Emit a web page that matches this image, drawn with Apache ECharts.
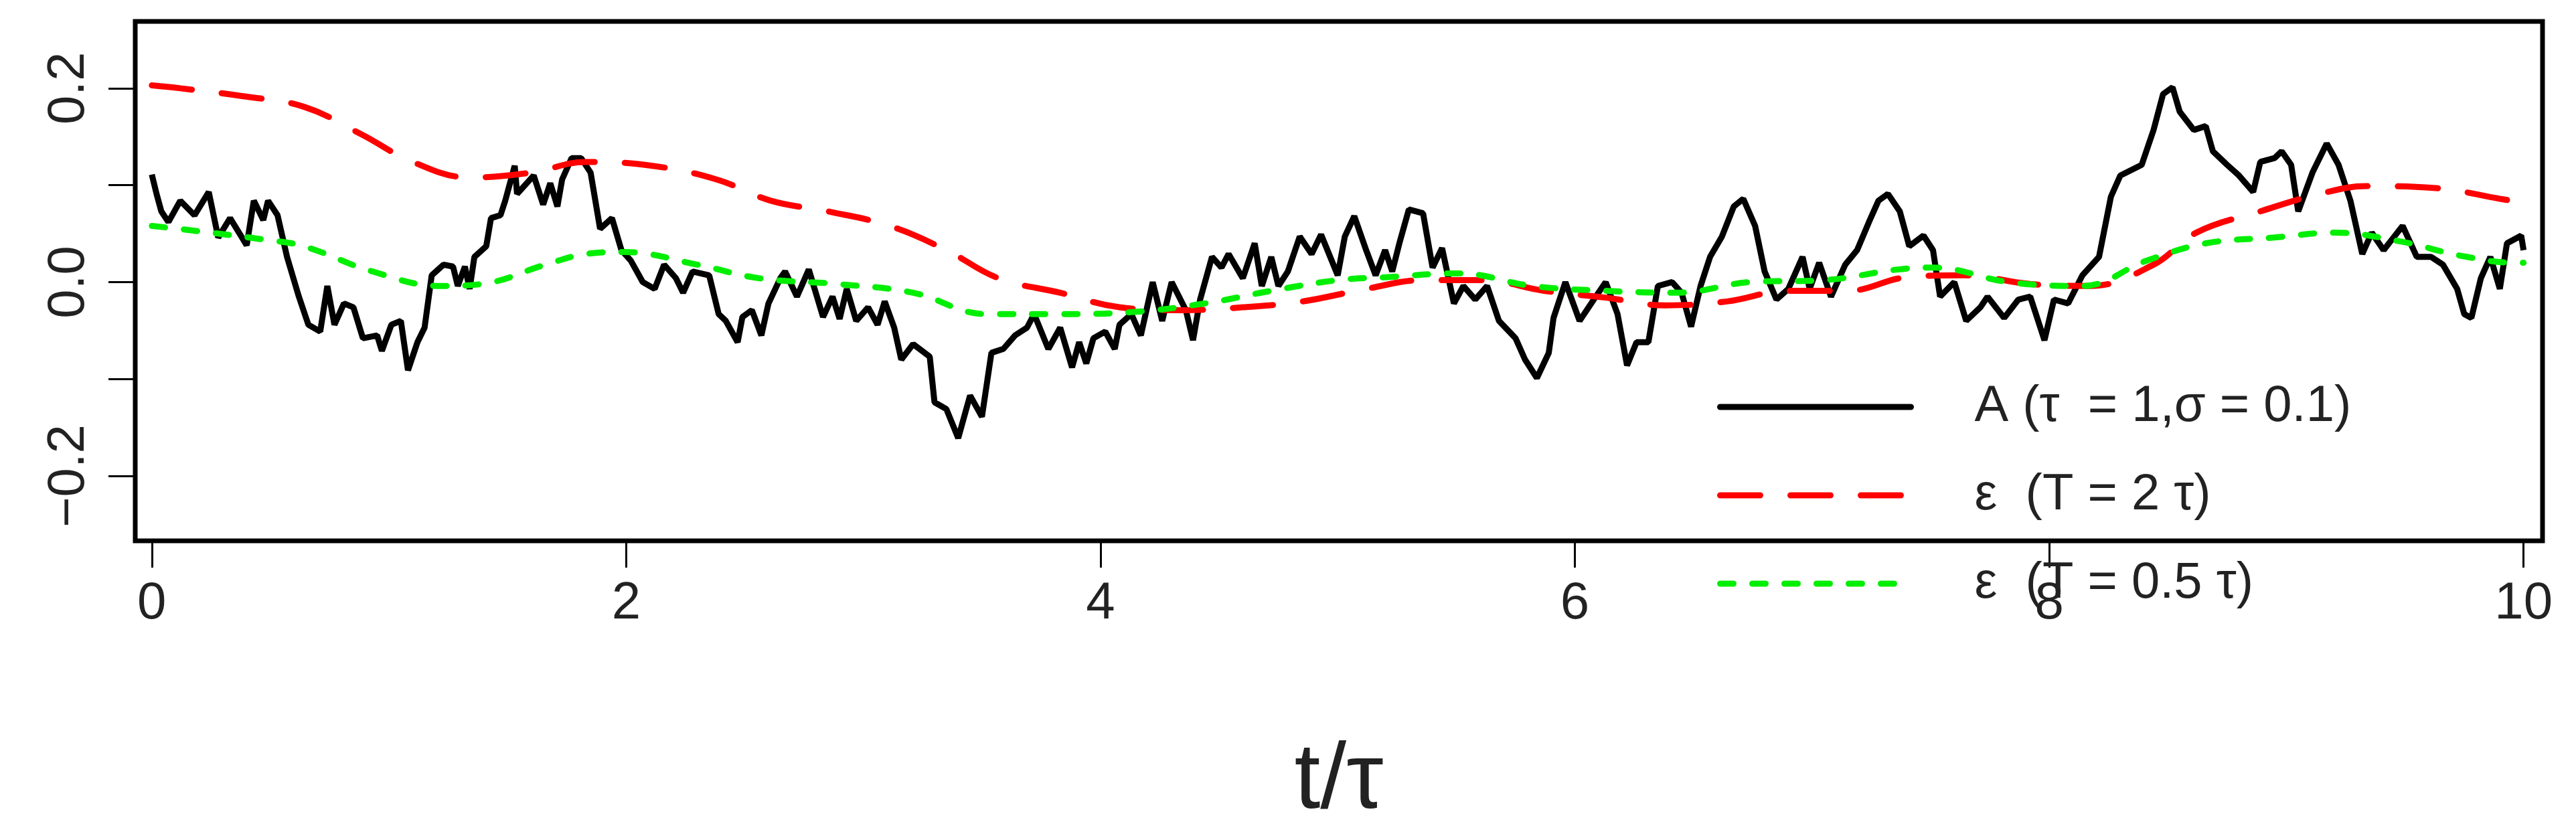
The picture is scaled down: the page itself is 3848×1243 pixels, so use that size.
<!DOCTYPE html>
<html>
<head>
<meta charset="utf-8">
<script src="https://cdn.jsdelivr.net/npm/echarts@6/dist/echarts.min.js"></script>
<style>html,body{margin:0;padding:0;background:#fff}#chart{width:3848px;height:1243px}</style>
</head>
<body>
<div id="chart"></div>
<script>
// A (tau = 1, sigma = 0.1)
const tA = [0,0.02,0.04,0.07,0.12,0.18,0.24,0.28,0.33,0.40,0.43,0.47,0.49,0.53,0.57,0.62,0.66,0.71,0.74,0.77,0.81,0.85,0.89,0.95,0.97,1.01,1.05,1.08,1.12,1.15,1.18,1.23,1.27,1.29,1.32,1.34,1.36,1.41,1.43,1.47,1.49,1.53,1.54,1.61,1.65,1.68,1.71,1.73,1.77,1.81,1.85,1.89,1.94,1.98,2.02,2.07,2.12,2.16,2.21,2.24,2.28,2.35,2.39,2.42,2.47,2.49,2.53,2.57,2.60,2.65,2.67,2.72,2.77,2.83,2.87,2.90,2.93,2.97,3.02,3.06,3.09,3.13,3.16,3.21,3.28,3.30,3.35,3.40,3.45,3.50,3.54,3.59,3.64,3.69,3.72,3.78,3.83,3.88,3.91,3.94,3.97,4.02,4.06,4.08,4.13,4.17,4.22,4.26,4.30,4.36,4.39,4.42,4.47,4.51,4.54,4.60,4.65,4.68,4.72,4.75,4.79,4.84,4.89,4.93,5.00,5.03,5.07,5.12,5.16,5.20,5.23,5.26,5.30,5.36,5.40,5.44,5.49,5.53,5.58,5.63,5.68,5.75,5.79,5.84,5.89,5.91,5.96,6.02,6.08,6.13,6.18,6.22,6.26,6.31,6.35,6.41,6.45,6.49,6.53,6.57,6.62,6.67,6.71,6.76,6.80,6.85,6.90,6.96,6.99,7.03,7.08,7.14,7.19,7.24,7.28,7.32,7.37,7.41,7.47,7.51,7.54,7.60,7.65,7.71,7.74,7.81,7.87,7.92,7.98,8.02,8.08,8.14,8.21,8.26,8.30,8.39,8.44,8.48,8.52,8.55,8.61,8.66,8.69,8.75,8.80,8.86,8.89,8.95,8.98,9.02,9.05,9.11,9.17,9.22,9.27,9.32,9.36,9.41,9.49,9.55,9.61,9.66,9.72,9.75,9.78,9.82,9.86,9.90,9.93,9.99,10.0];
const vA = [0.111,0.091,0.073,0.062,0.084,0.069,0.093,0.046,0.066,0.038,0.084,0.064,0.084,0.069,0.026,-0.015,-0.044,-0.051,-0.004,-0.044,-0.022,-0.026,-0.058,-0.055,-0.071,-0.044,-0.040,-0.091,-0.062,-0.047,0.007,0.018,0.016,-0.004,0.016,-0.007,0.026,0.037,0.066,0.069,0.084,0.120,0.091,0.110,0.080,0.102,0.078,0.106,0.128,0.128,0.113,0.055,0.066,0.033,0.022,0.000,-0.007,0.018,0.004,-0.011,0.011,0.007,-0.033,-0.040,-0.062,-0.036,-0.029,-0.055,-0.022,0.004,0.011,-0.015,0.013,-0.036,-0.015,-0.038,-0.007,-0.040,-0.026,-0.044,-0.020,-0.047,-0.080,-0.064,-0.077,-0.124,-0.131,-0.161,-0.117,-0.139,-0.073,-0.069,-0.055,-0.047,-0.033,-0.069,-0.047,-0.088,-0.062,-0.084,-0.058,-0.051,-0.069,-0.044,-0.033,-0.055,0.000,-0.040,0.000,-0.029,-0.060,-0.018,0.026,0.015,0.029,0.004,0.040,-0.004,0.026,-0.004,0.011,0.047,0.029,0.049,0.007,0.047,0.068,0.033,0.007,0.033,0.011,0.040,0.075,0.071,0.015,0.035,-0.022,-0.004,-0.018,-0.004,-0.040,-0.058,-0.080,-0.099,-0.073,-0.037,0.000,-0.040,-0.018,0.000,-0.033,-0.086,-0.062,-0.062,-0.004,0.000,-0.011,-0.046,-0.004,0.026,0.047,0.078,0.086,0.058,0.011,-0.018,-0.007,0.026,-0.007,0.020,-0.015,0.018,0.033,0.062,0.084,0.091,0.073,0.037,0.048,0.033,-0.015,0.000,-0.040,-0.026,-0.015,-0.037,-0.018,-0.015,-0.060,-0.018,-0.022,0.007,0.026,0.088,0.110,0.121,0.157,0.194,0.201,0.176,0.157,0.161,0.135,0.121,0.110,0.093,0.124,0.128,0.135,0.121,0.073,0.113,0.143,0.121,0.084,0.029,0.051,0.033,0.058,0.026,0.026,0.018,-0.007,-0.033,-0.037,0.004,0.026,-0.007,0.040,0.048,0.033];
// epsilon (T = 2 tau)
const tE2 = [0,0.12,0.38,0.64,0.88,1.10,1.34,1.60,1.83,2.11,2.38,2.61,2.85,3.11,3.35,3.57,3.83,4.08,4.34,4.60,4.85,5.12,5.36,5.61,5.87,6.13,6.38,6.64,6.90,7.15,7.40,7.64,7.92,8.17,8.44,8.62,8.89,9.14,9.34,9.63,9.90,10.0];
const vE2 = [0.203,0.200,0.192,0.181,0.153,0.124,0.108,0.113,0.124,0.120,0.106,0.084,0.073,0.058,0.033,0.004,-0.011,-0.026,-0.029,-0.026,-0.020,-0.007,0.002,0.002,-0.009,-0.016,-0.024,-0.020,-0.009,-0.009,0.005,0.007,-0.002,-0.004,0.018,0.051,0.073,0.091,0.099,0.097,0.086,0.082];
// epsilon (T = 0.5 tau)
const tE05 = [0,0.18,0.47,0.64,0.93,1.22,1.39,1.66,1.83,1.99,2.30,2.56,2.89,3.21,3.52,3.83,4.13,4.44,4.72,5.00,5.20,5.51,5.82,6.13,6.43,6.74,7.05,7.36,7.51,7.83,8.14,8.41,8.66,8.95,9.20,9.48,9.74,9.97,10.0];
const vE05 = [0.058,0.053,0.044,0.037,0.011,-0.004,-0.002,0.018,0.029,0.031,0.018,0.004,-0.002,-0.011,-0.033,-0.033,-0.031,-0.022,-0.009,0.002,0.005,0.009,-0.004,-0.009,-0.011,0.000,0.002,0.013,0.015,0.000,-0.004,0.022,0.040,0.046,0.051,0.042,0.027,0.020,0.020];

const xTicks = [0, 2, 4, 6, 8, 10];
const yTicks = [-0.2, -0.1, 0, 0.1, 0.2];
const yLabels = [-0.2, 0, 0.2];
const names = ['A (\u03c4  = 1,\u03c3 = 0.1)', '\u03b5  (T = 2 \u03c4)', '\u03b5  (T = 0.5 \u03c4)'];

const zip = (t, v) => t.map((x, i) => [x, v[i]]);

const chart = echarts.init(document.getElementById('chart'));
const font = 'Liberation Sans, Arial, sans-serif';

chart.setOption({
  animation: false,
  backgroundColor: '#fff',
  grid: { left: 202, right: 50, top: 32, bottom: 370, show: true, borderColor: '#000', borderWidth: 7, backgroundColor: 'transparent' },
  legend: {
    left: 2560, top: 565, orient: 'vertical', itemWidth: 285, itemHeight: 40, itemGap: 56,
    itemStyle: { opacity: 0 },
    lineStyle: { width: 9, type: 'inherit', cap: 'round' },
    textStyle: { fontFamily: font, fontSize: 76, color: '#222', padding: [0, 0, 0, 90] },
    data: names.map(n => ({ name: n }))
  },
  xAxis: {
    type: 'value', min: -0.07, max: 10.08,
    name: 't/\u03c4', nameLocation: 'middle', nameGap: 290,
    nameTextStyle: { fontFamily: font, fontSize: 140, color: '#222' },
    axisLine: { show: false, onZero: false },
    splitLine: { show: false },
    axisTick: { show: true, customValues: xTicks, length: 40, lineStyle: { color: '#000', width: 3 } },
    axisLabel: { customValues: xTicks, fontFamily: font, fontSize: 78, color: '#222', margin: 55 }
  },
  yAxis: {
    type: 'value', min: -0.267, max: 0.269,
    axisLine: { show: false, onZero: false },
    splitLine: { show: false },
    axisTick: { show: true, customValues: yTicks, length: 40, lineStyle: { color: '#000', width: 3 } },
    axisLabel: {
      customValues: yLabels, rotate: 90, fontFamily: font, fontSize: 78, color: '#222', margin: 60,
      formatter: v => (v < 0 ? '\u2212' : '') + Math.abs(v).toFixed(1)
    }
  },
  series: [
    { name: names[0], type: 'line', data: zip(tA, vA), showSymbol: false, symbol: 'none', z: 3,
      lineStyle: { color: '#000', width: 9 }, itemStyle: { color: '#000' } },
    { name: names[1], type: 'line', data: zip(tE2, vE2), showSymbol: false, symbol: 'none', smooth: 0.4, z: 4,
      lineStyle: { color: '#ff0000', width: 9, type: [60, 45], cap: 'round' }, itemStyle: { color: '#ff0000' } },
    { name: names[2], type: 'line', data: zip(tE05, vE05), showSymbol: false, symbol: 'none', smooth: 0.4, z: 5,
      lineStyle: { color: '#00ee00', width: 9, type: [20, 28], cap: 'round' }, itemStyle: { color: '#00ee00' } }
  ]
});
</script>
</body>
</html>
